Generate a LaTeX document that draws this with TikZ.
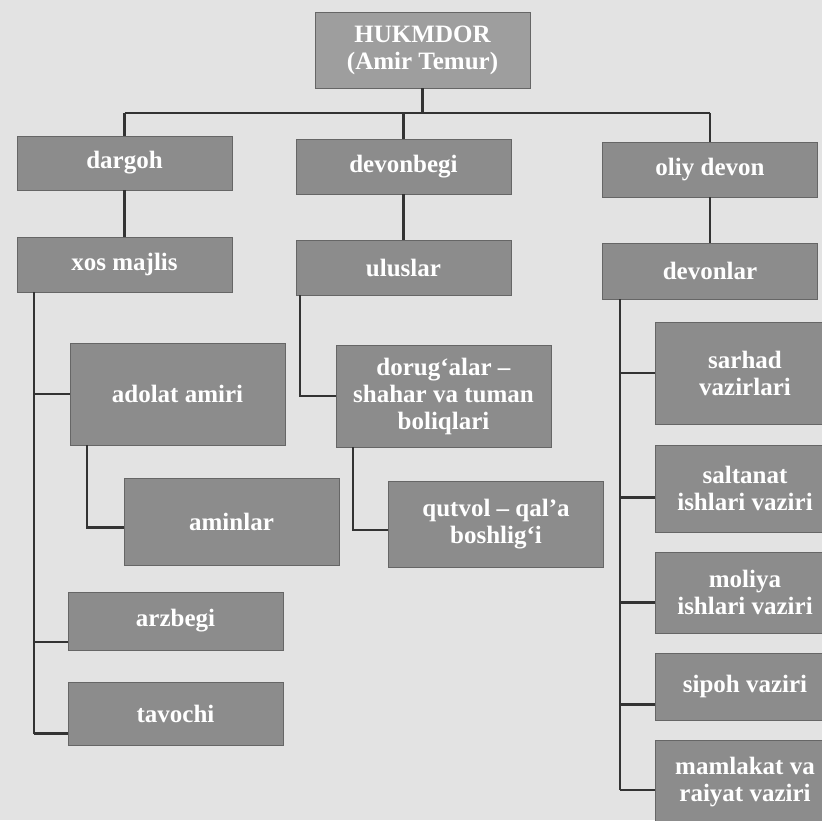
\documentclass[tikz,border=0pt]{standalone}
\usepackage{fontspec}
\setmainfont{Liberation Serif}
\begin{document}
\begin{tikzpicture}[x=1pt,y=-1pt,
	box/.style={draw=black!60,fill=black!45,text=white,font=\bfseries\fontsize{25}{27}\selectfont,align=center,inner sep=0pt,minimum width=215pt},
	side/.style={box,minimum width=180pt},
	link/.style={line width=2.2pt,draw=black!80}]
	\useasboundingbox (0,0) rectangle (822,820);
	\fill[black!11] (0,0) rectangle (822,820);
	% top and second level
	\node[box,fill=black!38,minimum height=76pt] (hukm) at (422.5,50) {HUKMDOR\\(Amir Temur)};
	\node[box,minimum height=54pt] (dargoh) at (124.5,163) {dargoh};
	\node[box,minimum height=55pt] (devonbegi) at (403.5,166.5) {devonbegi};
	\node[box,minimum height=55pt] (oliy) at (710,169.5) {oliy devon};
	\node[box,minimum height=55pt] (xos) at (124.5,264.5) {xos majlis};
	\node[box,minimum height=55pt] (uluslar) at (403.5,267.5) {uluslar};
	\node[box,minimum height=56pt] (devonlar) at (710,271) {devonlar};
	% left and middle branches
	\node[box,minimum height=102pt] (adolat) at (177.5,394) {adolat amiri};
	\node[box,minimum height=102pt] (dorug) at (443.5,396) {dorug‘alar --\\shahar va tuman\\boliqlari};
	\node[box,minimum height=87pt] (aminlar) at (231.5,521.5) {aminlar};
	\node[box,minimum height=86pt] (qutvol) at (496,524) {qutvol -- qal’a\\boshlig‘i};
	\node[box,minimum height=58pt] (arzbegi) at (175.5,621) {arzbegi};
	\node[box,minimum height=63pt] (tavochi) at (175.5,713.5) {tavochi};
	% right branch
	\node[side,minimum height=102pt] (sarhad) at (745,373) {sarhad\\vazirlari};
	\node[side,minimum height=87pt] (saltanat) at (745,488.5) {saltanat\\ishlari vaziri};
	\node[side,minimum height=81pt] (moliya) at (745,592.5) {moliya\\ishlari vaziri};
	\node[side,minimum height=67pt] (sipoh) at (745,686.5) {sipoh vaziri};
	\node[side,minimum height=84pt] (mamlakat) at (745,782) {mamlakat va\\raiyat vaziri};
	% connectors
	\coordinate (top) at (422,113);
	\draw[link] (hukm.south) -- (hukm.south |- top);
	\draw[link] (dargoh.north |- top) -- (oliy.north |- top);
	\foreach \n in {dargoh,devonbegi,oliy}
		\draw[link] (\n.north |- top) -- (\n.north);
	\foreach \a/\b in {dargoh/xos,devonbegi/uluslar,oliy/devonlar}
		\draw[link] (\a) -- (\b);
	\coordinate (lbus) at ([xshift=17pt]xos.south west);
	\foreach \n/\s in {adolat/0,arzbegi/-21,tavochi/-20}{
		\coordinate (p) at ([yshift=\s pt]\n.west);
		\draw[link] (p -| lbus) -- (p);
	}
	\coordinate (lend) at ([yshift=-20pt]tavochi.west);
	\draw[link] (lbus) -- (lbus |- lend);
	\coordinate (amin) at ([yshift=-6pt]aminlar.west);
	\draw[link] ([xshift=17pt]adolat.south west) |- (amin);
	\draw[link] ([xshift=4pt]uluslar.south west) |- (dorug.west);
	\coordinate (qutin) at ([yshift=-6pt]qutvol.west);
	\draw[link] ([xshift=17pt]dorug.south west) |- (qutin);
	\coordinate (rbus) at ([xshift=18pt]devonlar.south west);
	\foreach \n/\s in {sarhad/0,saltanat/-9,moliya/-10,sipoh/-18,mamlakat/-8}{
		\coordinate (p) at ([yshift=\s pt]\n.west);
		\draw[link] (p -| rbus) -- (p);
	}
	\coordinate (rend) at ([yshift=-8pt]mamlakat.west);
	\draw[link] (rbus) -- (rbus |- rend);
\end{tikzpicture}
\end{document}
